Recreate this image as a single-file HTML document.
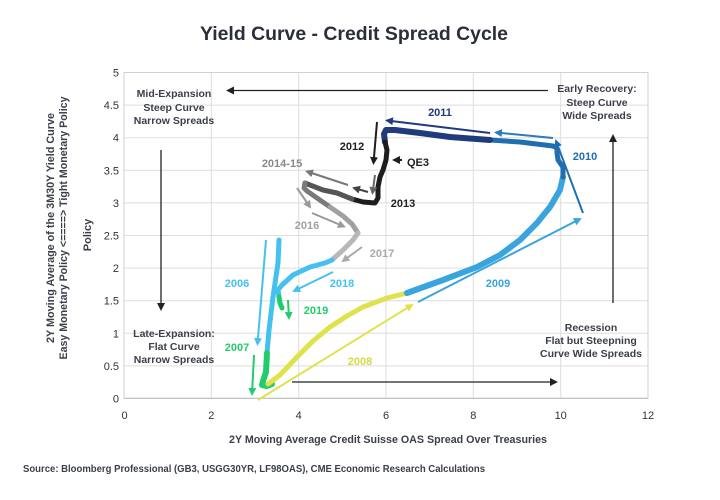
<!DOCTYPE html>
<html>
<head>
<meta charset="utf-8">
<style>
html,body{margin:0;padding:0;background:#fff;}
svg{display:block;}
text{font-family:"Liberation Sans",sans-serif;}
.tick{font-size:11px;fill:#333;}
.ann{font-size:10.5px;font-weight:bold;fill:#3a3f4a;}
.yr{font-size:11px;font-weight:bold;}
</style>
</head>
<body>
<svg width="720" height="500" viewBox="0 0 720 500" xmlns="http://www.w3.org/2000/svg">
<defs>
  <marker id="mk" markerUnits="userSpaceOnUse" markerWidth="9" markerHeight="9" refX="6" refY="4" orient="auto"><path d="M0,0 L8,4 L0,8 z" fill="#222"/></marker>
  <marker id="mLb" markerUnits="userSpaceOnUse" markerWidth="9" markerHeight="9" refX="6" refY="4" orient="auto"><path d="M0,0 L8,4 L0,8 z" fill="#45c1ef"/></marker>
  <marker id="mGr" markerUnits="userSpaceOnUse" markerWidth="9" markerHeight="9" refX="6" refY="4" orient="auto"><path d="M0,0 L8,4 L0,8 z" fill="#22cc6c"/></marker>
  <marker id="mYe" markerUnits="userSpaceOnUse" markerWidth="9" markerHeight="9" refX="6" refY="4" orient="auto"><path d="M0,0 L8,4 L0,8 z" fill="#dfe24a"/></marker>
  <marker id="m09" markerUnits="userSpaceOnUse" markerWidth="9" markerHeight="9" refX="6" refY="4" orient="auto"><path d="M0,0 L8,4 L0,8 z" fill="#3aa4dd"/></marker>
  <marker id="m10" markerUnits="userSpaceOnUse" markerWidth="9" markerHeight="9" refX="6" refY="4" orient="auto"><path d="M0,0 L8,4 L0,8 z" fill="#1f6fb0"/></marker>
  <marker id="m10b" markerUnits="userSpaceOnUse" markerWidth="9" markerHeight="9" refX="6" refY="4" orient="auto"><path d="M0,0 L8,4 L0,8 z" fill="#2b7cbd"/></marker>
  <marker id="m11" markerUnits="userSpaceOnUse" markerWidth="9" markerHeight="9" refX="6" refY="4" orient="auto"><path d="M0,0 L8,4 L0,8 z" fill="#1f3b7c"/></marker>
  <marker id="mBk" markerUnits="userSpaceOnUse" markerWidth="9" markerHeight="9" refX="6" refY="4" orient="auto"><path d="M0,0 L8,4 L0,8 z" fill="#1e1e1e"/></marker>
  <marker id="mG4" markerUnits="userSpaceOnUse" markerWidth="9" markerHeight="9" refX="6" refY="4" orient="auto"><path d="M0,0 L8,4 L0,8 z" fill="#444"/></marker>
  <marker id="mG6" markerUnits="userSpaceOnUse" markerWidth="9" markerHeight="9" refX="6" refY="4" orient="auto"><path d="M0,0 L8,4 L0,8 z" fill="#666"/></marker>
  <marker id="mG7" markerUnits="userSpaceOnUse" markerWidth="9" markerHeight="9" refX="6" refY="4" orient="auto"><path d="M0,0 L8,4 L0,8 z" fill="#777"/></marker>
  <marker id="mG9" markerUnits="userSpaceOnUse" markerWidth="9" markerHeight="9" refX="6" refY="4" orient="auto"><path d="M0,0 L8,4 L0,8 z" fill="#999"/></marker>
  <marker id="mGa" markerUnits="userSpaceOnUse" markerWidth="9" markerHeight="9" refX="6" refY="4" orient="auto"><path d="M0,0 L8,4 L0,8 z" fill="#aaa"/></marker>
</defs>

<!-- Title -->
<text x="354" y="40" text-anchor="middle" font-size="19" font-weight="bold" fill="#2a2f3a" textLength="308" lengthAdjust="spacingAndGlyphs">Yield Curve - Credit Spread Cycle</text>

<!-- gridlines -->
<g stroke="#dedede" stroke-width="1">
  <line x1="124" y1="105.1" x2="648" y2="105.1"/>
  <line x1="124" y1="137.7" x2="648" y2="137.7"/>
  <line x1="124" y1="170.3" x2="648" y2="170.3"/>
  <line x1="124" y1="202.9" x2="648" y2="202.9"/>
  <line x1="124" y1="235.5" x2="648" y2="235.5"/>
  <line x1="124" y1="268.1" x2="648" y2="268.1"/>
  <line x1="124" y1="300.7" x2="648" y2="300.7"/>
  <line x1="124" y1="333.3" x2="648" y2="333.3"/>
  <line x1="124" y1="365.9" x2="648" y2="365.9"/>
  <line x1="211.3" y1="72.5" x2="211.3" y2="398.3"/>
  <line x1="298.7" y1="72.5" x2="298.7" y2="398.3"/>
  <line x1="386" y1="72.5" x2="386" y2="398.3"/>
  <line x1="473.3" y1="72.5" x2="473.3" y2="398.3"/>
  <line x1="560.7" y1="72.5" x2="560.7" y2="398.3"/>
</g>
<rect x="124" y="72.5" width="524" height="325.8" fill="none" stroke="#d0d0d0" stroke-width="1"/>
<line x1="124" y1="398.3" x2="648" y2="398.3" stroke="#bbb" stroke-width="1"/>

<!-- y ticks -->
<g class="tick" text-anchor="end">
  <text x="119" y="76.5">5</text>
  <text x="119" y="109">4.5</text>
  <text x="119" y="141.7">4</text>
  <text x="119" y="174.3">3.5</text>
  <text x="119" y="206.9">3</text>
  <text x="119" y="239.5">2.5</text>
  <text x="119" y="272.1">2</text>
  <text x="119" y="304.7">1.5</text>
  <text x="119" y="337.3">1</text>
  <text x="119" y="369.9">0.5</text>
  <text x="119" y="402.3">0</text>
</g>
<!-- x ticks -->
<g class="tick" text-anchor="middle">
  <text x="124.5" y="419">0</text>
  <text x="211.3" y="419">2</text>
  <text x="298.7" y="419">4</text>
  <text x="386" y="419">6</text>
  <text x="473.3" y="419">8</text>
  <text x="560.7" y="419">10</text>
  <text x="648" y="419">12</text>
</g>

<!-- axis titles -->
<text transform="translate(54,228) rotate(-90)" text-anchor="middle" font-size="11" font-weight="bold" fill="#3a3f4a" textLength="230" lengthAdjust="spacingAndGlyphs">2Y Moving Average of the 3M30Y Yield Curve</text>
<text transform="translate(67,228) rotate(-90)" text-anchor="middle" font-size="11" font-weight="bold" fill="#3a3f4a" textLength="263" lengthAdjust="spacingAndGlyphs">Easy Monetary Policy &lt;====&gt; Tight Monetary Policy</text>
<text transform="translate(91,235) rotate(-90)" text-anchor="middle" font-size="11" font-weight="bold" fill="#3a3f4a">Policy</text>
<text x="388" y="443" text-anchor="middle" font-size="11" font-weight="bold" fill="#3a3f4a" textLength="318" lengthAdjust="spacingAndGlyphs">2Y Moving Average Credit Suisse OAS Spread Over Treasuries</text>
<text x="23" y="472" font-size="10" font-weight="bold" fill="#3a3f4a" textLength="462" lengthAdjust="spacingAndGlyphs">Source: Bloomberg Professional (GB3, USGG30YR, LF98OAS), CME Economic Research Calculations</text>

<!-- quadrant annotations -->
<g class="ann" text-anchor="middle">
  <text x="174" y="97">Mid-Expansion</text>
  <text x="174" y="111">Steep Curve</text>
  <text x="174" y="124">Narrow Spreads</text>
  <text x="174" y="337">Late-Expansion:</text>
  <text x="174" y="350">Flat Curve</text>
  <text x="174" y="363">Narrow Spreads</text>
  <text x="597" y="92">Early Recovery:</text>
  <text x="597" y="106">Steep Curve</text>
  <text x="597" y="119">Wide Spreads</text>
  <text x="591" y="331">Recession</text>
  <text x="591" y="344">Flat but Steepning</text>
  <text x="591" y="357">Curve Wide Spreads</text>
</g>

<!-- black annotation arrows -->
<g stroke="#222" stroke-width="1.3" fill="none">
  <line x1="548" y1="90.5" x2="228" y2="90.5" marker-end="url(#mk)"/>
  <line x1="161" y1="150" x2="161" y2="309" marker-end="url(#mk)"/>
  <line x1="292" y1="382" x2="556" y2="382" marker-end="url(#mk)"/>
  <line x1="613" y1="303" x2="613" y2="136" marker-end="url(#mk)"/>
</g>

<!-- thick data path -->
<g fill="none" stroke-linejoin="round" stroke-linecap="round">
  <polyline stroke="#45c1ef" stroke-width="5" points="279,240 278,263 273,297 269,330 267,353"/>
  <polyline stroke="#22cc6c" stroke-width="6" points="267,353 266,372 263,381 262,385 267,386 272,384"/>
  <polyline stroke="#dfe24a" stroke-width="5" points="268,384 280,375 297,357 313,341 330,327 347,316 363,307 387,298 407,293"/>
  <polyline stroke="#3aa4dd" stroke-width="6" points="407,293 443,280 477,267 500,255 520,240 537,223 550,207 560,190 563,177"/>
  <polyline stroke="#1f6fb0" stroke-width="5" points="563,177 563,167 558,160 557,153 557,148 553,146 520,142 490,140"/>
  <polyline stroke="#1f3b7c" stroke-width="6" points="490,140 450,137 420,133 395,130 386,130 384,134 385,142"/>
  <polyline stroke="#1e1e1e" stroke-width="5" points="385,142 387,150 386,160 383,170 380,177 378,187 378,198 375,203 363,202 352,199"/>
  <polyline stroke="#555" stroke-width="5" points="352,199 337,193 323,190 310,185 305,183"/>
  <polyline stroke="#7a7a7a" stroke-width="5" points="305,183 304,188 307,191 317,198 330,207"/>
  <polyline stroke="#a0a0a0" stroke-width="5" points="330,207 343,216 352,224 358,233"/>
  <polyline stroke="#b8b8b8" stroke-width="5" points="358,233 353,240 343,250 332,260"/>
  <polyline stroke="#45c1ef" stroke-width="5" points="332,260 325,263 310,267 293,275 282,285 278,290 279,297"/>
  <polyline stroke="#22cc6c" stroke-width="5" points="279,297 280,303 282,308"/>
</g>

<!-- thin year arrows -->
<g fill="none" stroke-width="2">
  <line stroke="#45c1ef" x1="266" y1="240" x2="257.5" y2="344" marker-end="url(#mLb)"/>
  <line stroke="#22cc6c" x1="254" y1="355" x2="252" y2="394" marker-end="url(#mGr)"/>
  <line stroke="#dfe24a" x1="258" y1="400" x2="412" y2="305" marker-end="url(#mYe)"/>
  <line stroke="#3aa4dd" x1="418" y1="302" x2="580" y2="219" marker-end="url(#m09)"/>
  <line stroke="#1f6fb0" x1="583" y1="213" x2="556" y2="141" marker-end="url(#m10)"/>
  <line stroke="#2b7cbd" x1="553" y1="138" x2="496" y2="132.5" marker-end="url(#m10b)"/>
  <line stroke="#1f3b7c" x1="490" y1="133" x2="387" y2="120.5" marker-end="url(#m11)"/>
  <line stroke="#1e1e1e" x1="377" y1="122" x2="373.5" y2="163" marker-end="url(#mBk)"/>
  <line stroke="#1e1e1e" x1="402" y1="160" x2="394" y2="160" marker-end="url(#mBk)"/>
  <line stroke="#444" x1="368" y1="192" x2="354" y2="188" marker-end="url(#mG4)"/>
  <line stroke="#666" x1="375" y1="175" x2="372.5" y2="193" marker-end="url(#mG6)"/>
  <line stroke="#777" x1="348" y1="185" x2="307" y2="171.5" marker-end="url(#mG7)"/>
  <line stroke="#999" x1="297" y1="188" x2="310" y2="207" marker-end="url(#mG9)"/>
  <line stroke="#999" x1="312" y1="213" x2="344" y2="226.5" marker-end="url(#mG9)"/>
  <line stroke="#aaa" x1="362" y1="247" x2="343" y2="261" marker-end="url(#mGa)"/>
  <line stroke="#45c1ef" x1="333" y1="272" x2="294" y2="291" marker-end="url(#mLb)"/>
  <line stroke="#22cc6c" x1="288" y1="300" x2="289" y2="318" marker-end="url(#mGr)"/>
</g>

<!-- year labels -->
<g class="yr" text-anchor="middle">
  <text x="440" y="116" fill="#1f3b7c">2011</text>
  <text x="585" y="160" fill="#1f6fb0">2010</text>
  <text x="498" y="287" fill="#3aa4dd">2009</text>
  <text x="360" y="365" fill="#d6d844">2008</text>
  <text x="237" y="351" fill="#22cc6c">2007</text>
  <text x="237" y="287" fill="#45c1ef">2006</text>
  <text x="316" y="314" fill="#22cc6c">2019</text>
  <text x="342" y="287" fill="#45c1ef">2018</text>
  <text x="382" y="257" fill="#aaa">2017</text>
  <text x="307" y="229" fill="#a0a0a0">2016</text>
  <text x="282" y="167" fill="#888">2014-15</text>
  <text x="403" y="207" fill="#222">2013</text>
  <text x="352" y="150" fill="#222">2012</text>
  <text x="407" y="166" fill="#222" text-anchor="start">QE3</text>
</g>
</svg>
</body>
</html>
